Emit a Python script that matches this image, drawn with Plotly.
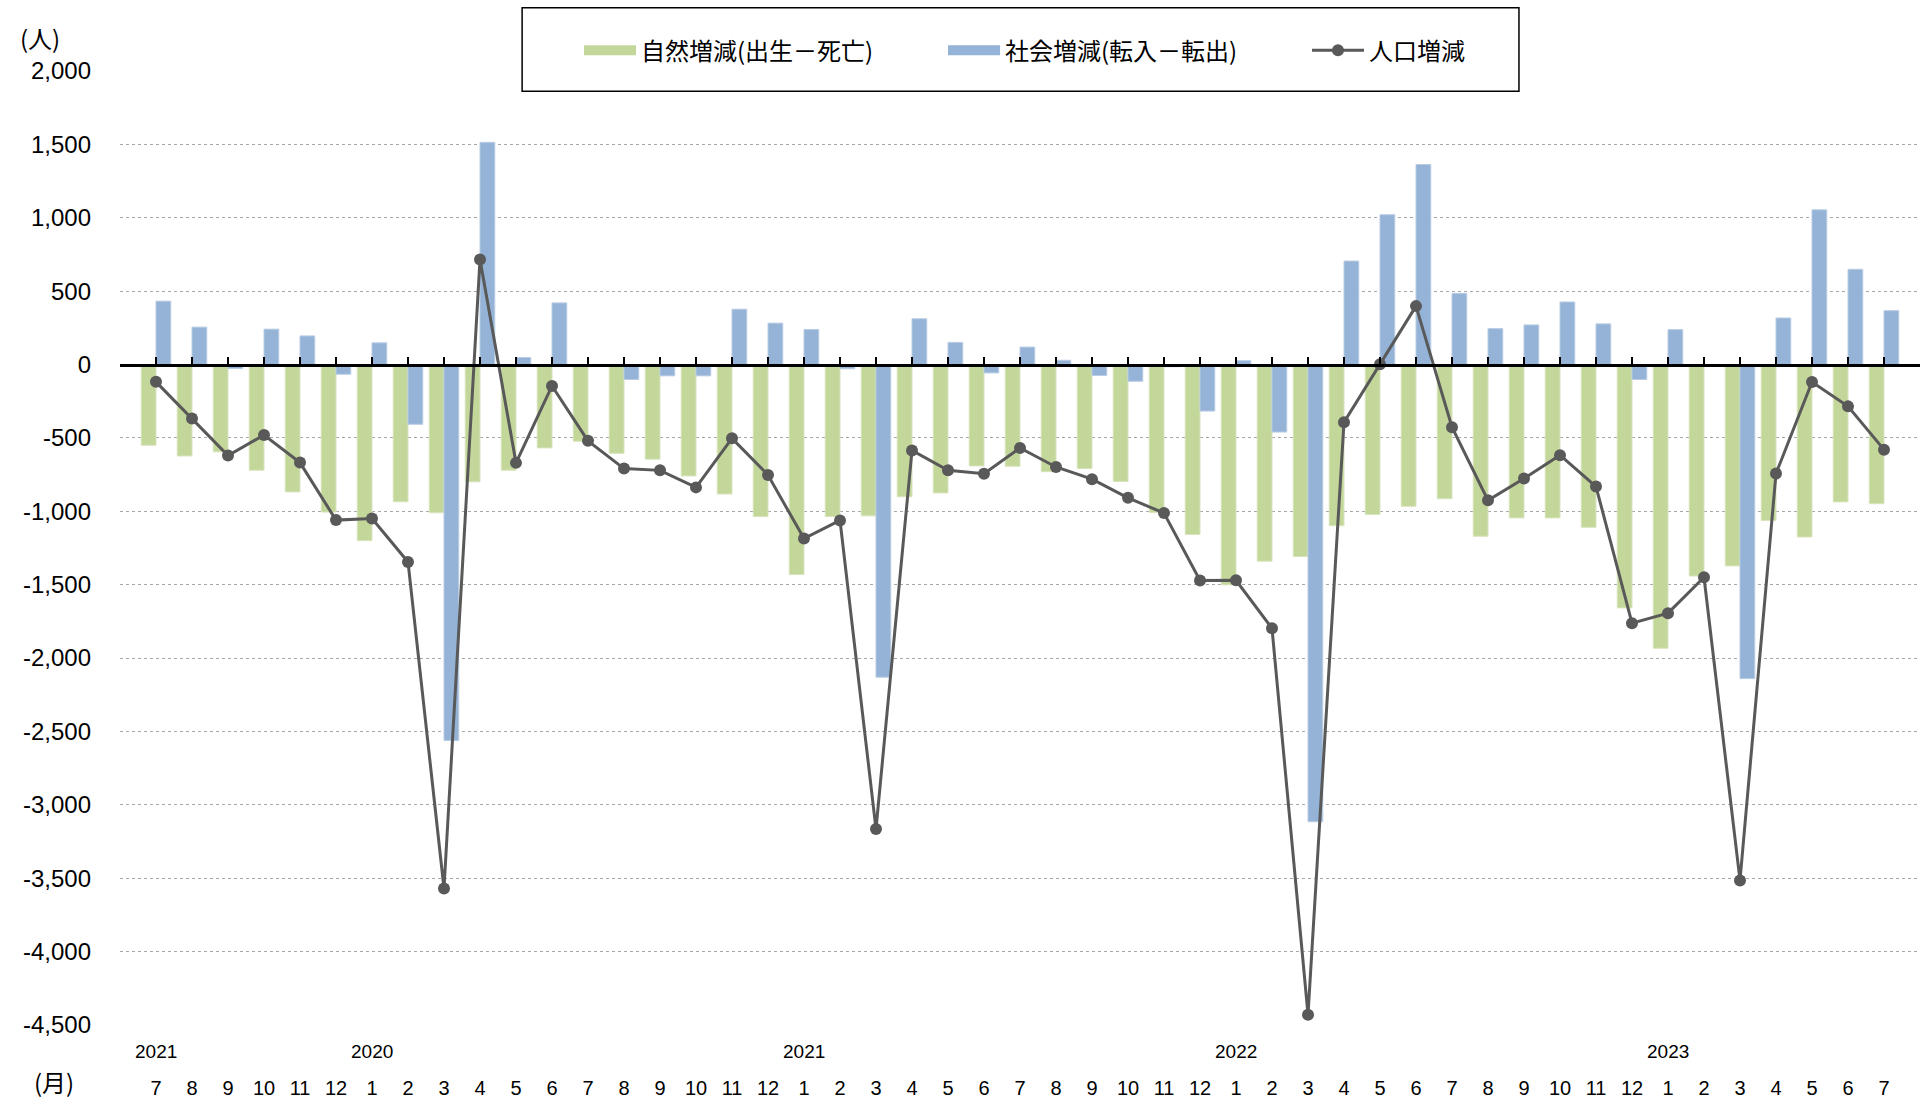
import plotly.graph_objects as go

months = [7, 8, 9, 10, 11, 12,
          1, 2, 3, 4, 5, 6, 7, 8, 9, 10, 11, 12,
          1, 2, 3, 4, 5, 6, 7, 8, 9, 10, 11, 12,
          1, 2, 3, 4, 5, 6, 7, 8, 9, 10, 11, 12,
          1, 2, 3, 4, 5, 6, 7]
year_labels = ["2021", "2020", "2021", "2022", "2023"]
year_label_index = [0, 6, 18, 30, 42]

natural = [-550, -623, -595, -720, -868, -1005,
           -1200, -935, -1010, -799, -720, -568, -523, -605, -645, -759, -882, -1036,
           -1431, -1036, -1031, -901, -875, -691, -693, -730, -709, -797, -1008, -1158,
           -1501, -1340, -1308, -1098, -1022, -966, -914, -1170, -1045, -1045, -1109, -1658,
           -1933, -1441, -1372, -1063, -1175, -936, -948]
social = [432, 255, -27, 241, 195, -66,
          148, -407, -2562, 1514, 48, 420, -3, -102, -77, -77, 377, 282,
          239, -29, -2130, 312, 151, -57, 119, 29, -75, -114, -15, -317,
          26, -460, -3115, 705, 1021, 1363, 485, 245, 270, 426, 277, -102,
          238, -9, -2140, 317, 1054, 649, 367]
population = [-118, -368, -620, -480, -668, -1060,
              -1049, -1345, -3570, 716, -670, -146, -520, -709, -721, -837, -503, -753,
              -1186, -1062, -3165, -585, -720, -744, -568, -698, -781, -908, -1012, -1472,
              -1470, -1797, -4430, -393, 2, 398, -427, -925, -776, -618, -831, -1762,
              -1694, -1449, -3515, -743, -119, -285, -580]

names = ["自然増減(出生－死亡)", "社会増減(転入－転出)", "人口増減"]
y_ticks = list(range(-4500, 2001, 500))

GREEN = "#C4D79B"
BLUE = "#95B3D7"
GRAY = "#595959"
NUM_FONT = "Liberation Sans, Arial, Noto Sans CJK JP"
JP_FONT = "Noto Sans CJK JP"

idx = list(range(len(months)))
Y_MIN, Y_MAX = -4500, 2000

fig = go.Figure()
fig.add_trace(go.Bar(x=idx, y=natural, name=names[0],
                     marker=dict(color=GREEN, line=dict(width=1, color="#D8E4BC")),
                     showlegend=False, xaxis="x", yaxis="y"))
fig.add_trace(go.Bar(x=idx, y=social, name=names[1],
                     marker=dict(color=BLUE, line=dict(width=1, color="#B8CCE4")),
                     showlegend=False, xaxis="x", yaxis="y"))
fig.add_trace(go.Scatter(x=idx, y=population, name=names[2], mode="lines+markers",
                         line=dict(color=GRAY, width=3), marker=dict(color=GRAY, size=12),
                         showlegend=False, xaxis="x2", yaxis="y"))
# legend entries
fig.add_trace(go.Scatter(x=[None], y=[None], name=names[0], mode="lines",
                         line=dict(color=GREEN, width=13), xaxis="x2", yaxis="y"))
fig.add_trace(go.Scatter(x=[None], y=[None], name=names[1], mode="lines",
                         line=dict(color=BLUE, width=13), xaxis="x2", yaxis="y"))
fig.add_trace(go.Scatter(x=[None], y=[None], name=names[2], mode="lines+markers",
                         line=dict(color=GRAY, width=3), marker=dict(color=GRAY, size=12),
                         xaxis="x2", yaxis="y"))

annotations = []
for lab, i in zip(year_labels, year_label_index):
    annotations.append(dict(x=i, y=-0.028, xref="x", yref="paper", text=lab, showarrow=False,
                            xanchor="center", yanchor="middle",
                            font=dict(family=NUM_FONT, size=19, color="black")))
annotations.append(dict(x=-0.0445, y=1.0352, xref="paper", yref="paper", text="(人)",
                        showarrow=False, xanchor="center", yanchor="middle",
                        font=dict(family=JP_FONT, size=24, color="black")))
annotations.append(dict(x=-0.0365, y=-0.0595, xref="paper", yref="paper", text="(月)",
                        showarrow=False, xanchor="center", yanchor="middle",
                        font=dict(family=JP_FONT, size=24, color="black")))

fig.update_layout(
    width=1923, height=1101, autosize=False,
    margin=dict(l=120, r=3, t=71, b=76),
    paper_bgcolor="white", plot_bgcolor="white",
    barmode="group", bargap=0.18, bargroupgap=0,
    font=dict(family=NUM_FONT, size=19, color="black"),
    xaxis=dict(range=[-1, len(months)], tickmode="array", tickvals=idx, ticktext=[str(m) for m in months],
               showgrid=False, zeroline=False, showline=False, ticks="",
               tickfont=dict(family=NUM_FONT, size=20, color="black"), ticklabelstandoff=49),
    xaxis2=dict(range=[-1, len(months)], overlaying="x", anchor="free",
                position=(0 - Y_MIN) / (Y_MAX - Y_MIN),
                tickmode="array", tickvals=list(range(-1, len(months) + 1)),
                showticklabels=False, ticks="inside", ticklen=7, tickwidth=2, tickcolor="black",
                showline=True, linewidth=2.5, linecolor="black", showgrid=False, zeroline=False),
    yaxis=dict(range=[Y_MIN, Y_MAX], tickmode="array", tickvals=y_ticks,
               ticktext=[f"{v:,}" for v in y_ticks],
               showgrid=True, gridcolor="#A6A6A6", griddash="dot", gridwidth=1,
               zeroline=False, showline=False, ticks="",
               tickfont=dict(family=NUM_FONT, size=24, color="black"), ticklabelstandoff=28),
    legend=dict(orientation="h", x=0.255, y=1.0214, xanchor="left", yanchor="middle",
                bgcolor="rgba(0,0,0,0)", borderwidth=0,
                font=dict(family=JP_FONT, size=24, color="black"),
                itemwidth=52, entrywidth=297, entrywidthmode="pixels", traceorder="normal"),
    shapes=[dict(type="rect", xref="paper", yref="paper", x0=0.2234, x1=0.7772, y0=0.9788, y1=1.0662,
                 line=dict(color="black", width=1.5), fillcolor="white", layer="above")],
    annotations=annotations,
)

fig.write_html("out.html", config={"displayModeBar": False},
               post_script="document.body.style.margin='0';document.body.style.overflow='hidden';")
